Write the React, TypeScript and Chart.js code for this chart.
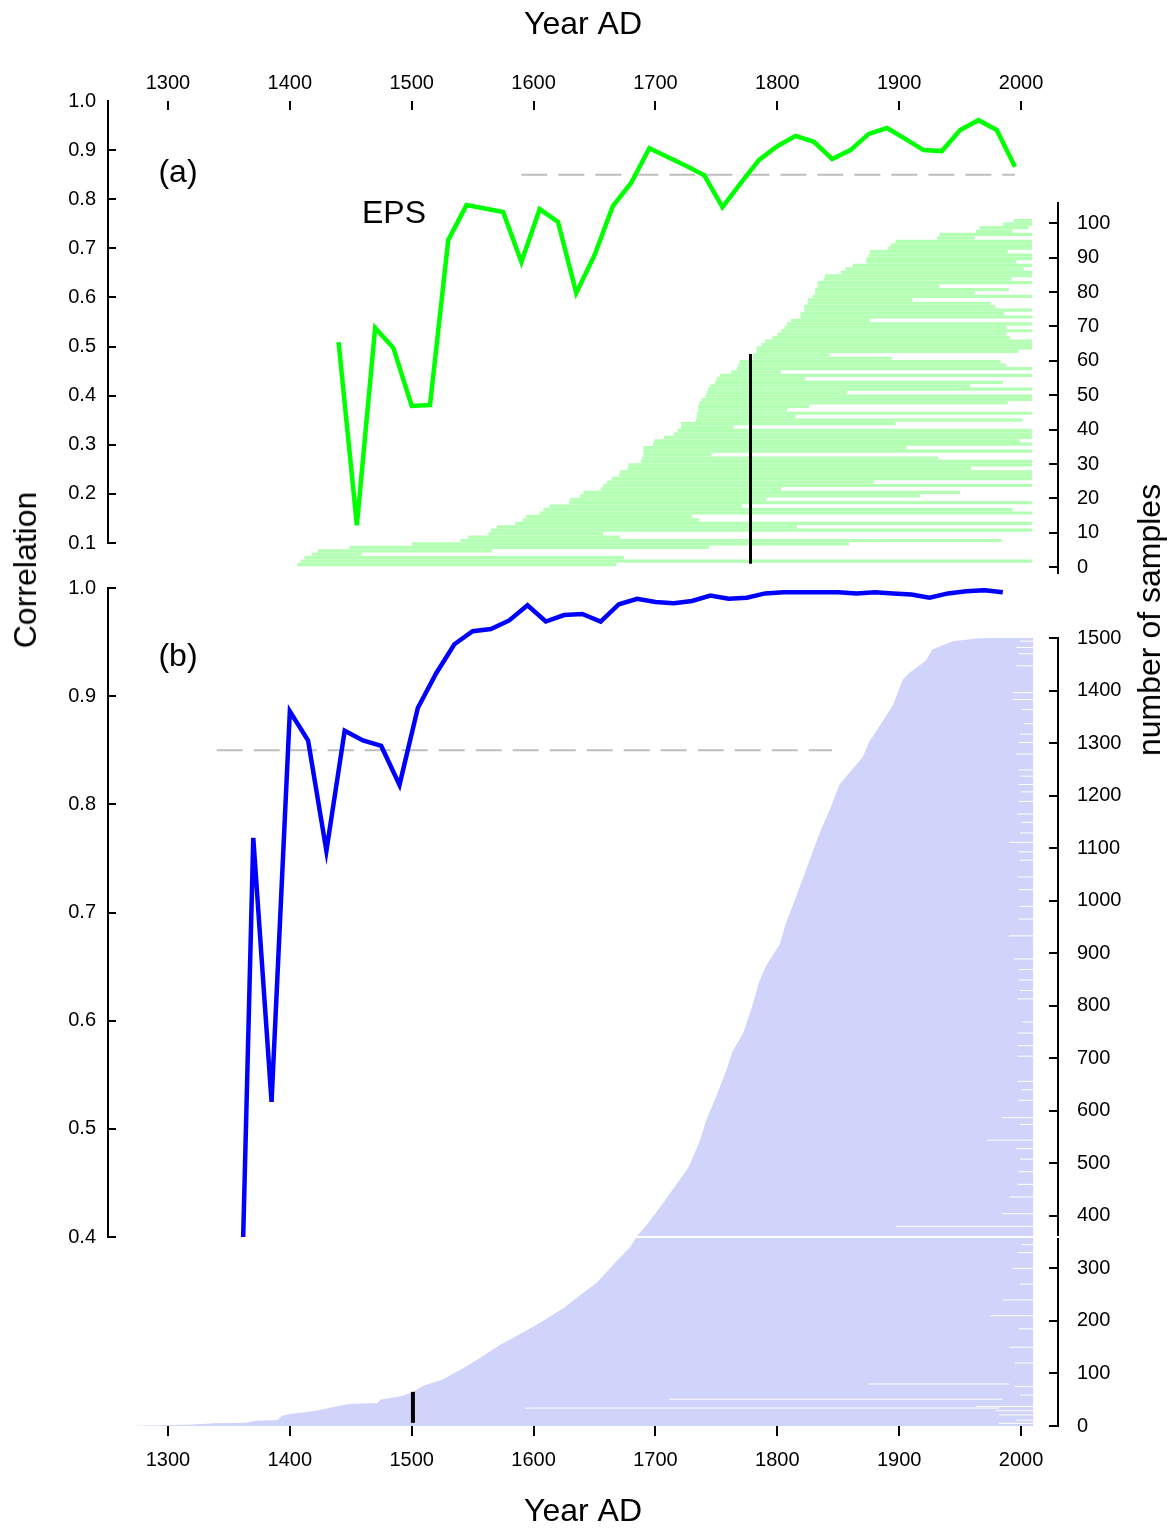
import { useEffect, useRef } from 'react';
import { Chart, registerables } from 'chart.js';

Chart.register(...registerables);

const PAGE_W = 1171;
const PAGE_H = 1528;
const FONT = '"Liberation Sans", Arial, Helvetica, sans-serif';
const BLACK = '#000000';

// ---------------- data ----------------

// shared year axis
const YEAR_MIN = 1250.8;
const YEAR_MAX = 2030.3;
const yearTicks = [1300, 1400, 1500, 1600, 1700, 1800, 1900, 2000];

// panel (a): expressed population signal
const epsYears = [
  1440, 1455, 1470, 1485, 1500, 1515, 1530, 1545, 1560, 1575, 1590, 1605, 1620,
  1635, 1650, 1665, 1680, 1695, 1710, 1725, 1740, 1755, 1770, 1785, 1800, 1815,
  1830, 1845, 1860, 1875, 1890, 1905, 1920, 1935, 1950, 1965, 1980, 1995,
];
const epsValues = [
  0.509, 0.136, 0.538, 0.497, 0.379, 0.381, 0.717, 0.788, 0.781, 0.774, 0.672,
  0.78, 0.754, 0.609, 0.686, 0.786, 0.833, 0.904, 0.886, 0.868, 0.849, 0.784,
  0.833, 0.88, 0.908, 0.929, 0.917, 0.882, 0.9, 0.933, 0.945, 0.923, 0.9, 0.898,
  0.941, 0.961, 0.941, 0.866,
];

// panel (b): running correlation
const rbarYears = [
  1355, 1370, 1385, 1400, 1415, 1430, 1445, 1460, 1475, 1490, 1505, 1520, 1535,
  1550, 1565, 1580, 1595, 1610, 1625, 1640, 1655, 1670, 1685, 1700, 1715, 1730,
  1745, 1760, 1775, 1790, 1805, 1820, 1835, 1850, 1865, 1880, 1895, 1910, 1925,
  1940, 1955, 1970, 1985,
];
const rbarValues = [
  0.1, 0.769, 0.525, 0.886, 0.859, 0.757, 0.868, 0.859, 0.854, 0.818, 0.889,
  0.921, 0.948, 0.96, 0.962, 0.97, 0.984, 0.969, 0.975, 0.976, 0.969, 0.985,
  0.99, 0.987, 0.986, 0.988, 0.993, 0.99, 0.991, 0.995, 0.996, 0.996, 0.996,
  0.996, 0.995, 0.996, 0.995, 0.994, 0.991, 0.995, 0.997, 0.998, 0.996,
];

const threshold = 0.85;
const thresholdSpanA = [1590, 1995];
const thresholdSpanB = [1340, 1845];

// panel (a): first and last year of each sample, sorted by first year
const sampleStartsA = [
  1406, 1409, 1412, 1418, 1423, 1449, 1500, 1540, 1546, 1563,
  1565, 1570, 1585, 1591, 1594, 1605, 1608, 1613, 1629, 1630,
  1638, 1641, 1655, 1657, 1660, 1664, 1670, 1671, 1677, 1678,
  1688, 1689, 1690, 1690, 1690, 1698, 1699, 1707, 1715, 1718,
  1721, 1721, 1733, 1734, 1734, 1735, 1735, 1736, 1738, 1741,
  1742, 1743, 1745, 1749, 1750, 1753, 1762, 1767, 1768, 1769,
  1780, 1780, 1783, 1783, 1787, 1790, 1796, 1800, 1803, 1806,
  1808, 1811, 1819, 1819, 1822, 1822, 1825, 1825, 1829, 1831,
  1831, 1833, 1833, 1838, 1839, 1852, 1856, 1862, 1873, 1873,
  1875, 1876, 1891, 1893, 1897, 1931, 1933, 1963, 1966, 1985,
  1994,
];
const sampleEndsA = [
  1668, 2009, 1674, 1459, 1566, 1744, 1859, 1984, 1671, 1657,
  2009, 1816, 2009, 1736, 1730, 2009, 1993, 1771, 2009, 1791,
  1917, 1950, 1803, 2009, 1879, 2009, 2009, 2009, 1959, 2009,
  2009, 1932, 1746, 2009, 1906, 2009, 1999, 2009, 2009, 2009,
  1764, 1897, 2001, 1815, 2009, 1808, 1826, 1989, 2009, 2009,
  1857, 2009, 1958, 1985, 1823, 2009, 1803, 2009, 1988, 1983,
  1894, 1843, 1998, 2009, 2009, 2009, 1991, 1988, 2009, 1988,
  2009, 1876, 2009, 1986, 2009, 1979, 1975, 1911, 2009, 1962,
  1990, 1933, 2009, 1992, 2009, 2009, 2002, 2009, 1996, 2009,
  2009, 1989, 2009, 2009, 2009, 1962, 2009, 1993, 2006, 2009,
  2009,
];

// vertical markers: year and sample range
const markerA = { year: 1778, from: 1, to: 62 };
const markerB = { year: 1501, from: 6, to: 65 };

// panel (b): number of samples that have started by each year
const depthYearsB = [
  1269, 1282, 1317, 1338, 1364, 1372, 1390, 1393, 1400, 1419, 1448, 1472, 1474,
  1492, 1500, 1510, 1525, 1540, 1555, 1573, 1592, 1610, 1625, 1637, 1652, 1667,
  1679, 1685, 1692, 1701, 1716, 1727, 1736, 1742, 1750, 1758, 1763, 1772, 1780,
  1785, 1791, 1802, 1807, 1815, 1824, 1834, 1843, 1851, 1870, 1875, 1884, 1895,
  1903, 1908, 1922, 1927, 1944, 1963, 1975, 2010,
];
const depthCountsB = [
  0, 1, 2.5, 5, 6, 10, 11.5, 19, 23, 28, 42, 44, 50,
  57, 64, 77, 88, 107, 128, 155, 179, 203, 225, 247, 273, 311,
  340, 362, 380, 408, 456, 492, 540, 584, 628, 676, 712, 748, 804,
  845, 877, 917, 957, 1005, 1061, 1125, 1173, 1221, 1273, 1301, 1333, 1373,
  1421, 1433, 1457, 1478, 1494, 1499, 1500, 1500,
];

// panel (b): samples ending before the last year (row, from year, to year)
const gapRowsB = [
  1494, 1482, 1470, 1447, 1396, 1383, 1364, 1337, 1317, 1301,
  1279, 1249, 1237, 1221, 1207, 1189, 1165, 1149, 1129, 1111,
  1093, 1077, 1045, 1021, 989, 965, 933, 889, 869, 849,
  829, 813, 769, 748, 724, 704, 656, 640, 620, 587,
  574, 544, 528, 508, 484, 460, 436, 404, 380, 345,
  330, 300, 270, 240, 210, 185, 150, 120, 80, 75,
  59, 51, 37, 34, 29, 21, 11, 5,
];
const gapFromB = [
  1999, 1996, 1998, 1996, 1993, 1993, 2000, 2002, 1999, 1998,
  1996, 1998, 1999, 1998, 2000, 1998, 1997, 2000, 1999, 1990,
  1998, 1999, 1997, 1998, 1999, 1998, 1990, 1994, 1998, 1998,
  1999, 1997, 2001, 1997, 1997, 1997, 1997, 2000, 1998, 1984,
  1999, 1972, 1996, 1999, 1998, 1997, 1990, 1984, 1897, 2000,
  1997, 1993, 1999, 1985, 1975, 1998, 1990, 1995, 1875, 1995,
  1999, 1711, 1963, 1593, 1979, 1982, 1996, 1982,
];
const gapToB = [
  2011, 2011, 2011, 2011, 2011, 2011, 2011, 2011, 2011, 2011,
  2011, 2011, 2011, 2011, 2011, 2011, 2011, 2011, 2011, 2011,
  2011, 2011, 2011, 2011, 2011, 2011, 2011, 2011, 2011, 2011,
  2011, 2011, 2011, 2011, 2011, 2011, 2011, 2011, 2011, 2011,
  2011, 2011, 2011, 2011, 2011, 2011, 2011, 2011, 2011, 2011,
  2011, 2011, 2011, 2011, 2011, 2011, 2011, 2011, 1990, 2011,
  2011, 1985, 2011, 1982, 2011, 2011, 2011, 2011,
];

// axis tick values
const corrTicksA = [0.1, 0.2, 0.3, 0.4, 0.5, 0.6, 0.7, 0.8, 0.9, 1.0];
const corrTicksB = [0.4, 0.5, 0.6, 0.7, 0.8, 0.9, 1.0];
const sampleTicksA = [0, 10, 20, 30, 40, 50, 60, 70, 80, 90, 100];
const sampleTicksB = [
  0, 100, 200, 300, 400, 500, 600, 700, 800, 900, 1000, 1100, 1200, 1300, 1400, 1500,
];

// ---------------- colours ----------------
const EPS_GREEN = '#00ff00';
const BAR_GREEN = '#b3ffb3';
const RBAR_BLUE = '#0000ff';
const DEPTH_LAVENDER = '#d0d4fa';
const DASH_GREY = '#bebebe';

// ---------------- helpers ----------------

// Tick marks that point into the plot from a value axis
const innerTicks = {
  id: 'innerTicks',
  afterDraw(chart: any, _args: any, opts: any) {
    if (!opts || !opts.values || !opts.scale) return;
    const scale = chart.scales[opts.scale];
    const ctx = chart.ctx;
    const left = opts.side === 'left';
    const x0 = left ? chart.chartArea.left : chart.chartArea.right;
    const dir = left ? 1 : -1;
    ctx.save();
    ctx.strokeStyle = BLACK;
    ctx.lineWidth = opts.width;
    ctx.lineCap = 'butt';
    ctx.beginPath();
    for (const v of opts.values) {
      const y = Math.round(scale.getPixelForValue(v));
      ctx.moveTo(x0 - dir, y);
      ctx.lineTo(x0 + dir * opts.length, y);
    }
    ctx.stroke();
    ctx.restore();
  },
};

const setTicks = (values: number[]) => (scale: any) => {
  scale.ticks = values.map((value) => ({ value }));
};

const tickFont = { family: FONT, size: 20 };
const titleFont = { family: FONT, size: 32, lineHeight: 1 };

function baseOptions(padding: any, scales: any, extraPlugins: any = {}) {
  return {
    animation: false,
    responsive: false,
    events: [],
    layout: { padding },
    plugins: {
      legend: { display: false },
      tooltip: { enabled: false },
      ...extraPlugins,
    },
    scales,
  };
}

const hiddenYearAxis = () => ({
  type: 'linear',
  display: false,
  min: YEAR_MIN,
  max: YEAR_MAX,
  bounds: 'data',
});

function yearAxis(
  position: 'top' | 'bottom',
  size: number,
  tickLength: number,
  labelPad: number,
  titlePad: any,
) {
  return {
    type: 'linear',
    position,
    min: YEAR_MIN,
    max: YEAR_MAX,
    bounds: 'data',
    afterBuildTicks: setTicks(yearTicks),
    afterFit: (s: any) => {
      s.height = size;
    },
    grid: {
      display: true,
      drawOnChartArea: false,
      drawTicks: true,
      tickLength,
      lineWidth: 2,
      color: BLACK,
      tickColor: BLACK,
    },
    border: { display: false },
    ticks: {
      font: tickFont,
      color: BLACK,
      padding: labelPad,
      autoSkip: false,
      maxRotation: 0,
      callback: (v: number) => String(v),
    },
    title: {
      display: true,
      text: 'Year AD',
      font: titleFont,
      color: BLACK,
      padding: titlePad,
    },
  };
}

function valueAxis(
  position: 'left' | 'right',
  min: number,
  max: number,
  values: number[],
  width: number,
  pad: number,
  fmt: (v: number) => string,
) {
  return {
    type: 'linear',
    position,
    min,
    max,
    bounds: 'data',
    afterBuildTicks: setTicks(values),
    afterFit: (s: any) => {
      s.width = width;
    },
    grid: { display: false, drawTicks: false },
    border: { display: true, color: BLACK, width: 2 },
    ticks: { font: tickFont, color: BLACK, padding: pad, autoSkip: false, callback: fmt },
  };
}

const fmtCorr = (v: number) => v.toFixed(1);
const fmtInt = (v: number) => String(v);

function segmentPoints(rows: number[], from: number[], to: number[]) {
  const pts: any[] = [];
  rows.forEach((row, i) => {
    pts.push({ x: from[i], y: row }, { x: to[i], y: row }, { x: to[i], y: null });
  });
  return pts;
}

// ---------------- layers ----------------

// top year axis
const buildTopAxis = () => ({
  type: 'line',
  data: { datasets: [] },
  options: baseOptions(
    { left: 108, right: 113, top: 0, bottom: PAGE_H - 116 },
    {
      x: yearAxis('top', 110, 9, 6, { top: 9, bottom: 0 }),
      y: { display: false, min: 0, max: 1 },
    },
  ),
});

// panel (a): sample spans on the sample-count axis
const buildSamplesA = () => {
  const rows = sampleStartsA.map((_, i) => i + 0.75);
  return {
    type: 'line',
    data: {
      datasets: [
        {
          data: [
            { x: markerA.year, y: markerA.from },
            { x: markerA.year, y: markerA.to },
          ],
          borderColor: BLACK,
          borderWidth: 3,
          pointRadius: 0,
          borderCapStyle: 'butt',
        },
        {
          data: segmentPoints(rows, sampleStartsA, sampleEndsA),
          borderColor: BAR_GREEN,
          borderWidth: 3.2,
          pointRadius: 0,
          spanGaps: false,
          borderCapStyle: 'butt',
        },
      ],
    },
    options: baseOptions(
      { left: 108, right: 0, top: 203, bottom: PAGE_H - 573 },
      {
        x: hiddenYearAxis(),
        y: valueAxis('right', -1.7, 105.9, sampleTicksA, 113, 19, fmtInt),
      },
      { innerTicks: { scale: 'y', side: 'right', values: sampleTicksA, length: 9, width: 2 } },
    ),
    plugins: [innerTicks],
  };
};

// panel (a): EPS curve
const buildCorrA = () => ({
  type: 'line',
  data: {
    datasets: [
      {
        data: epsYears.map((x, i) => ({ x, y: epsValues[i] })),
        borderColor: EPS_GREEN,
        borderWidth: 4.5,
        pointRadius: 0,
        tension: 0,
      },
      {
        data: thresholdSpanA.map((x) => ({ x, y: threshold })),
        borderColor: DASH_GREY,
        borderWidth: 2,
        borderDash: [26, 11],
        pointRadius: 0,
      },
    ],
  },
  options: baseOptions(
    { left: 0, right: 113, top: 101, bottom: PAGE_H - 543 },
    {
      x: hiddenYearAxis(),
      y: valueAxis('left', 0.1, 1.0, corrTicksA, 108, 12, fmtCorr),
    },
    { innerTicks: { scale: 'y', side: 'left', values: corrTicksA.slice(0, -1), length: 8, width: 2 } },
  ),
  plugins: [innerTicks],
});

// panel (b): sample depth with the bottom year axis
const buildSamplesB = () => ({
  type: 'line',
  data: {
    datasets: [
      {
        data: [
          { x: markerB.year, y: markerB.from },
          { x: markerB.year, y: markerB.to },
        ],
        borderColor: BLACK,
        borderWidth: 4,
        pointRadius: 0,
        borderCapStyle: 'butt',
      },
      {
        data: segmentPoints(gapRowsB, gapFromB, gapToB),
        borderColor: '#ffffff',
        borderWidth: 1,
        pointRadius: 0,
        spanGaps: false,
        borderCapStyle: 'butt',
      },
      {
        data: depthYearsB.map((x, i) => ({ x, y: depthCountsB[i] })),
        borderColor: 'rgba(0,0,0,0)',
        borderWidth: 0,
        backgroundColor: DEPTH_LAVENDER,
        fill: 'origin',
        pointRadius: 0,
        tension: 0,
      },
    ],
  },
  options: baseOptions(
    { left: 108, right: 0, top: 638, bottom: 0 },
    {
      x: yearAxis('bottom', PAGE_H - 1426, 10, 12, { top: 0, bottom: 0 }),
      y: valueAxis('right', 0, 1500, sampleTicksB, 113, 19, fmtInt),
    },
    { innerTicks: { scale: 'y', side: 'right', values: sampleTicksB, length: 9, width: 2 } },
  ),
  plugins: [innerTicks],
});

// panel (b): running correlation curve
const buildCorrB = () => ({
  type: 'line',
  data: {
    datasets: [
      {
        data: rbarYears.map((x, i) => ({ x, y: rbarValues[i] })),
        borderColor: RBAR_BLUE,
        borderWidth: 4.5,
        pointRadius: 0,
        tension: 0,
      },
      {
        data: thresholdSpanB.map((x) => ({ x, y: threshold })),
        borderColor: DASH_GREY,
        borderWidth: 2,
        borderDash: [26, 11],
        pointRadius: 0,
      },
    ],
  },
  options: baseOptions(
    { left: 0, right: 113, top: 588, bottom: PAGE_H - 1237 },
    {
      x: {
        type: 'linear',
        display: true,
        min: YEAR_MIN,
        max: YEAR_MAX,
        bounds: 'data',
        afterFit: (s: any) => {
          s.height = 0;
        },
        grid: { display: false, drawTicks: false },
        ticks: { display: false },
        border: { display: true, color: '#ffffff', width: 2 },
      },
      y: valueAxis('left', 0.4, 1.0, corrTicksB, 108, 12, fmtCorr),
    },
    { innerTicks: { scale: 'y', side: 'left', values: corrTicksB, length: 8, width: 2 } },
  ),
  plugins: [innerTicks],
});

function ChartLayer({ build }: { build: () => any }) {
  const ref = useRef<HTMLCanvasElement>(null);
  useEffect(() => {
    if (!ref.current) return;
    const chart = new Chart(ref.current, build());
    return () => chart.destroy();
  }, [build]);
  return (
    <canvas
      ref={ref}
      width={PAGE_W}
      height={PAGE_H}
      style={{ position: 'absolute', left: 0, top: 0, width: PAGE_W, height: PAGE_H }}
    />
  );
}

function Label({ text, x, y, rotate = false }: { text: string; x: number; y: number; rotate?: boolean }) {
  return (
    <div
      style={{
        position: 'absolute',
        left: x,
        top: y,
        transform: `translate(-50%, -50%)${rotate ? ' rotate(-90deg)' : ''}`,
        fontFamily: FONT,
        fontSize: 32,
        lineHeight: 1,
        color: BLACK,
        whiteSpace: 'nowrap',
      }}
    >
      {text}
    </div>
  );
}

export default function App() {
  return (
    <div
      style={{
        position: 'absolute',
        left: 0,
        top: 0,
        width: PAGE_W,
        height: PAGE_H,
        background: '#ffffff',
        overflow: 'hidden',
      }}
    >
      <ChartLayer build={buildSamplesB} />
      <ChartLayer build={buildCorrB} />
      <ChartLayer build={buildSamplesA} />
      <ChartLayer build={buildCorrA} />
      <ChartLayer build={buildTopAxis} />
      <Label text="(a)" x={178} y={171} />
      <Label text="EPS" x={394} y={212} />
      <Label text="(b)" x={178} y={655} />
      <Label text="Correlation" x={25} y={570} rotate />
      <Label text="number of samples" x={1149} y={620} rotate />
    </div>
  );
}
